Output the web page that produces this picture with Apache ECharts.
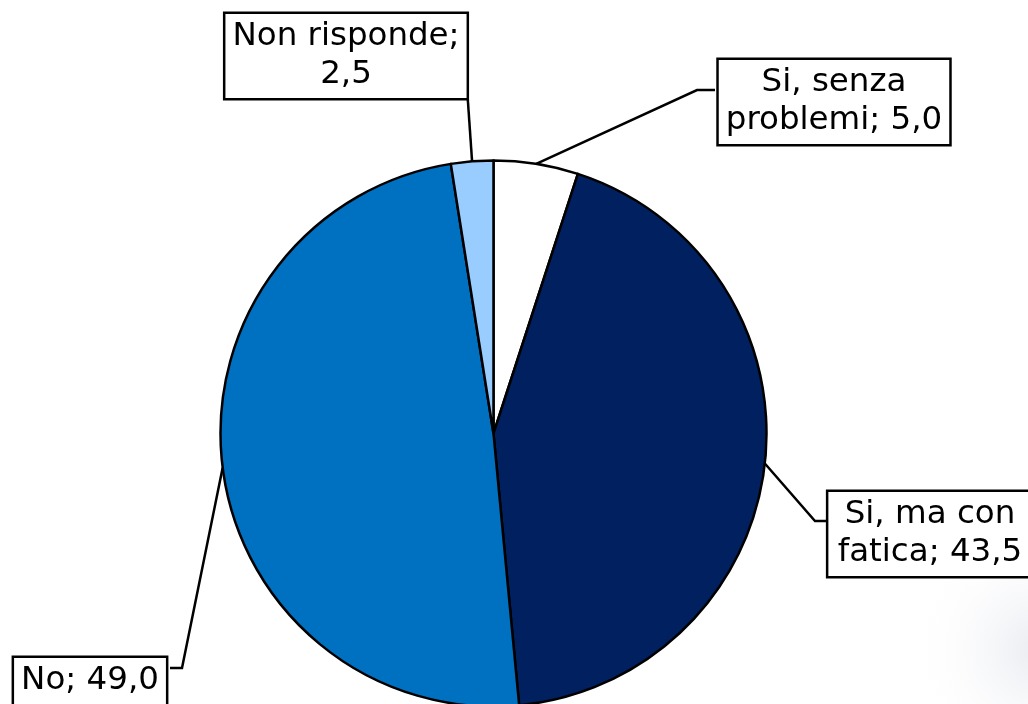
<!DOCTYPE html>
<html><head><meta charset="utf-8">
<script src="https://cdn.jsdelivr.net/npm/echarts@6/dist/echarts.min.js"></script>
<style>html,body{margin:0;padding:0;background:#fff}#c{width:1028px;height:704px}</style>
</head><body><div id="c"></div>
<script>
var categories = ['Si, senza problemi', 'Si, ma con fatica', 'No', 'Non risponde'];
var labelNames = ['Si, senza\nproblemi; ', 'Si, ma con\nfatica; ', 'No; ', 'Non risponde;\n'];
var values = [5.0, 43.5, 49.0, 2.5];
var colors = ['#FFFFFF', '#002060', '#0070C0', '#99CCFF'];

// label box layout: center of box, elbow point, attach point
var labelPos = [
  {x: 834, y: 102, elbow: [697, 90], attach: [715, 90]},
  {x: 930, y: 534, elbow: [815, 521], attach: [828, 521]},
  {x: 90, y: 681, elbow: [182, 668], attach: [170, 668]},
  {x: 346, y: 56, elbow: [467, 88], attach: [467, 88]}
];

function fmt(v){ return v.toFixed(1).replace('.', ','); }

var chart = echarts.init(document.getElementById('c'), null, {renderer:'canvas'});
chart.setOption({
  backgroundColor: '#fff',
  animation: false,
  graphic: [{
    type: 'circle', z: -10, silent: true,
    shape: {cx: 1040, cy: 650, r: 130},
    style: {
      fill: new echarts.graphic.RadialGradient(0.5, 0.5, 0.5, [
        {offset: 0, color: 'rgba(205,210,222,0.45)'},
        {offset: 1, color: 'rgba(255,255,255,0)'}
      ])
    }
  }],
  series: [{
    type: 'pie',
    center: [493.5, 433.5],
    radius: 273,
    startAngle: 90,
    clockwise: true,
    data: values.map(function(v, i){
      return {value: v, name: categories[i], itemStyle: {color: colors[i]}};
    }),
    itemStyle: {borderColor: '#000', borderWidth: 2.5},
    label: {
      show: true,
      position: 'outside',
      formatter: function(p){ return labelNames[p.dataIndex] + fmt(p.value); },
      fontFamily: 'DejaVu Sans',
      fontSize: 32.5,
      lineHeight: 38,
      color: '#000',
      backgroundColor: '#fff',
      borderColor: '#000',
      borderWidth: 2.5,
      padding: [5, 7, 3, 7]
    },
    labelLine: {show: true, lineStyle: {color: '#000', width: 2.5}},
    labelLayout: function(params){
      var L = labelPos[params.dataIndex];
      var p0 = params.labelLinePoints ? params.labelLinePoints[0] : L.elbow;
      return {
        x: L.x, y: L.y, align: 'center', verticalAlign: 'middle',
        labelLinePoints: [p0, L.elbow, L.attach]
      };
    },
    emphasis: {disabled: true}
  }]
});
</script></body></html>
